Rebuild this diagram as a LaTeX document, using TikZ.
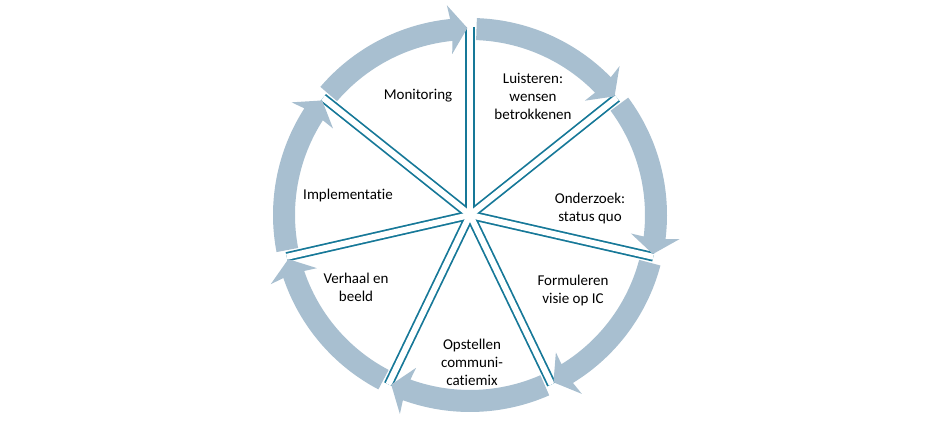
\documentclass[tikz,border=0pt]{standalone}
\usepackage{fontspec}
\setmainfont{Carlito}[Ligatures={NoCommon}]
\definecolor{band}{RGB}{168,191,208}
\definecolor{divline}{RGB}{22,120,152}
\tikzset{
  lbl/.style={align=center, font=\fontsize{15}{18}\selectfont, text=black, inner sep=0pt},
  divouter/.style={draw=divline, line width=9.5pt},
  divinner/.style={draw=white, line width=6pt},
  cyclearrow/.style={fill=band}
}
\begin{document}
\begin{tikzpicture}[x=1pt,y=1pt]
\useasboundingbox (0,0) rectangle (945,435);
\coordinate (C) at (470,220);
\begin{scope}[shift={(C)}]
  % dividers
  \foreach \k in {0,...,6}{
    \pgfmathsetmacro{\a}{90-\k*360/7}
    \draw[divouter] (0,0) -- (\a:188pt);
  }
  \foreach \k in {0,...,6}{
    \pgfmathsetmacro{\a}{90-\k*360/7}
    \draw[divinner] (0,0) -- (\a:188pt);
  }
  % arrows
  \foreach \k in {0,...,6}{
    \pgfmathsetmacro{\as}{90-\k*360/7-2}
    \pgfmathsetmacro{\at}{90-(\k+1)*360/7+0.8}
    \pgfmathsetmacro{\ab}{90-(\k+1)*360/7+5.8}
    \fill[cyclearrow] (\as:197pt) arc[start angle=\as, end angle=\ab, radius=197pt]
      -- (\ab+0.5:211pt) -- (\at:187pt) -- (\ab+0.5:162pt) -- (\ab:175pt)
      arc[start angle=\ab, end angle=\as, radius=175pt] -- cycle;
  }
\end{scope}
\node[lbl] (mon) at (418,339) {Monitoring};
\node[lbl] (lui) at (533,339) {Luisteren:\\wensen\\betrokkenen};
\node[lbl] (ond) at (590,226) {Onderzoek:\\status quo};
\node[lbl] (for) at (573,144) {Formuleren\\visie op IC};
\node[lbl] (ops) at (472,73) {Opstellen\\communi-\\catiemix};
\node[lbl] (ver) at (356,148) {Verhaal en\\beeld};
\node[lbl] (imp) at (348,239) {Implementatie};
\end{tikzpicture}
\end{document}
